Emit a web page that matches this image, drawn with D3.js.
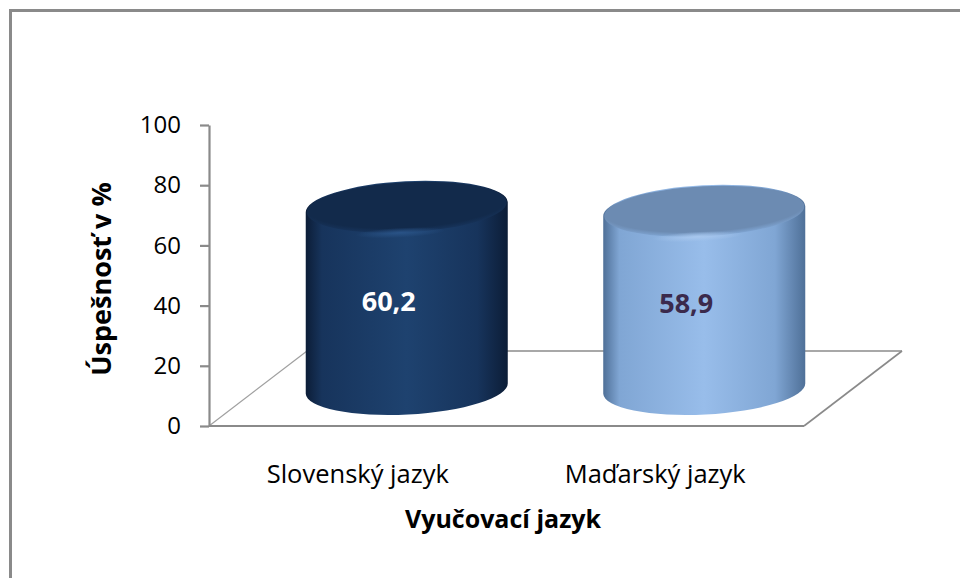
<!DOCTYPE html>
<html>
<head>
<meta charset="utf-8">
<script src="https://cdn.jsdelivr.net/npm/d3@7/dist/d3.min.js"></script>
<style>
  html, body { margin: 0; padding: 0; background: #fff; }
  svg { display: block; }
  text { font-family: "Open Sans", Lato, sans-serif; fill: #000; }
</style>
</head>
<body>
<script>
(function(d3) {
    'use strict';

    var categories = ['Slovenský jazyk', 'Maďarský jazyk'];
    var values = [60.2, 58.9];
    var yTicks = [0, 20, 40, 60, 80, 100];
    var labels = ['60,2', '58,9'];

    var settings = {
        width: 960,
        height: 578,
        left: 209,
        right: 804,
        top: 125,
        bottom: 426,
        depthX: 98,      // 3d floor depth offset
        depthY: -75,
        ry: 26,
        tilt: -3
    };

    // colours for each cylinder: edge, mid, light, top, label
    var looks = [
        { edge: '#0c1d37', mid: '#17345c', light: '#1e426f', top: '#122a4b', rim: '#2a5488', label: '#ffffff' },
        { edge: '#4f7098', mid: '#80a6d4', light: '#98bdea', top: '#6c8bb2', rim: '#a9c8ee', label: '#3b2a4c' }
    ];

    var svg = d3.select('body')
        .append('svg')
        .attr('width', settings.width)
        .attr('height', settings.height);

    var defs = svg.append('defs');

    var x = d3.scaleBand()
        .domain(categories)
        .range([settings.left, settings.right])
        .paddingInner(0.32)
        .paddingOuter(0.16);

    var y = d3.scaleLinear()
        .domain([0, 100])
        .range([settings.bottom, settings.top]);

    // chart border (only top and left show)
    svg.append('path')
        .attr('d', 'M10.5,578 L10.5,10.5 L960,10.5')
        .attr('fill', 'none')
        .attr('stroke', '#8a8a8a')
        .attr('stroke-width', 3);

    // floor
    var x0 = settings.left, x1 = settings.right, y0 = y(0);
    var dx = settings.depthX, dy = settings.depthY;
    var floor = svg.append('g').attr('class', 'floor');
    floor.append('line')
        .attr('x1', x0).attr('y1', y0).attr('x2', x0 + dx).attr('y2', y0 + dy)
        .attr('stroke', '#a0a0a0').attr('stroke-width', 1.2);
    floor.append('line')
        .attr('x1', x0 + dx).attr('y1', y0 + dy).attr('x2', x1 + dx).attr('y2', y0 + dy)
        .attr('stroke', '#a8a8a8').attr('stroke-width', 2);
    floor.append('line')
        .attr('x1', x1).attr('y1', y0).attr('x2', x1 + dx).attr('y2', y0 + dy)
        .attr('stroke', '#8a8a8a').attr('stroke-width', 1.6);
    floor.append('line')
        .attr('x1', x0).attr('y1', y0).attr('x2', x1).attr('y2', y0)
        .attr('stroke', '#8a8a8a').attr('stroke-width', 2.2);

    // gradients
    looks.forEach(function(c, i) {
        var g = defs.append('linearGradient')
            .attr('id', 'body' + i)
            .attr('x1', 0).attr('x2', 1).attr('y1', 0).attr('y2', 0);
        [[0, c.edge], [0.08, c.mid], [0.5, c.light], [0.85, c.mid], [1, c.edge]].forEach(function(s) {
            g.append('stop').attr('offset', s[0]).attr('stop-color', s[1]);
        });
        var t = defs.append('radialGradient')
            .attr('id', 'top' + i)
            .attr('cx', 0.5).attr('cy', 0.4).attr('r', 0.6);
        t.append('stop').attr('offset', 0).attr('stop-color', c.top);
        t.append('stop').attr('offset', 0.85).attr('stop-color', c.top);
        t.append('stop').attr('offset', 1).attr('stop-color', c.mid);
        var h = defs.append('radialGradient').attr('id', 'hi' + i);
        h.append('stop').attr('offset', 0).attr('stop-color', c.rim).attr('stop-opacity', 0.95);
        h.append('stop').attr('offset', 1).attr('stop-color', c.rim).attr('stop-opacity', 0);
    });

    // cylinders
    var rad = settings.tilt * Math.PI / 180;
    var bar = svg.selectAll('g.bar')
        .data(values)
        .enter()
        .append('g')
        .attr('class', 'bar');

    function geom(d, i) {
        var rx = x.bandwidth() / 2;
        return {
            cx: x(categories[i]) + rx + dx / 2,
            topY: y(d) + dy / 2,
            botY: y(0) + dy / 2,
            rx: rx,
            ox: rx * Math.cos(rad),
            oy: rx * Math.sin(rad)
        };
    }

    bar.append('path')
        .attr('d', function(d, i) {
            var g = geom(d, i), ry = settings.ry, t = settings.tilt;
            return 'M' + (g.cx - g.ox) + ',' + (g.topY - g.oy) +
                'L' + (g.cx - g.ox) + ',' + (g.botY - g.oy) +
                'A' + g.rx + ',' + ry + ' ' + t + ' 0 0 ' + (g.cx + g.ox) + ',' + (g.botY + g.oy) +
                'L' + (g.cx + g.ox) + ',' + (g.topY + g.oy) +
                'A' + g.rx + ',' + ry + ' ' + t + ' 0 0 ' + (g.cx - g.ox) + ',' + (g.topY - g.oy) + 'Z';
        })
        .attr('fill', function(d, i) { return 'url(#body' + i + ')'; });

    bar.append('ellipse')
        .attr('cx', 0).attr('cy', 0)
        .attr('rx', function(d, i) { return geom(d, i).rx - 1; })
        .attr('ry', settings.ry - 1)
        .attr('transform', function(d, i) {
            var g = geom(d, i);
            return 'translate(' + g.cx + ',' + g.topY + ') rotate(' + settings.tilt + ')';
        })
        .attr('fill', function(d, i) { return 'url(#top' + i + ')'; });

    bar.append('ellipse')
        .attr('cx', -8).attr('cy', settings.ry - 1)
        .attr('rx', 45).attr('ry', 5)
        .attr('transform', function(d, i) {
            var g = geom(d, i);
            return 'translate(' + g.cx + ',' + g.topY + ') rotate(' + settings.tilt + ')';
        })
        .attr('fill', function(d, i) { return 'url(#hi' + i + ')'; });

    bar.append('text')
        .attr('x', function(d, i) { return geom(d, i).cx - 18; })
        .attr('y', function(d) { return y(d / 2) - 35; })
        .attr('text-anchor', 'middle')
        .attr('dominant-baseline', 'central')
        .style('font-size', '27px')
        .style('font-weight', 'bold')
        .style('fill', function(d, i) { return looks[i].label; })
        .text(function(d, i) { return labels[i]; });

    // y axis
    var yAxis = svg.append('g')
        .attr('transform', 'translate(' + settings.left + ',0)')
        .call(d3.axisLeft(y).tickValues(yTicks).tickSize(9).tickSizeOuter(0).tickPadding(19));
    yAxis.select('.domain').attr('stroke', '#8a8a8a').attr('stroke-width', 2.2);
    yAxis.selectAll('.tick line').attr('stroke', '#8a8a8a').attr('stroke-width', 2.2);
    yAxis.selectAll('.tick text')
        .style('font-family', '"Open Sans", sans-serif')
        .style('font-size', '24px')
        .attr('fill', '#000');

    // category labels
    svg.selectAll('text.cat')
        .data(categories)
        .enter()
        .append('text')
        .attr('class', 'cat')
        .attr('x', function(d) { return x(d) + x.bandwidth() / 2; })
        .attr('y', 483)
        .attr('text-anchor', 'middle')
        .style('font-size', '25.5px')
        .text(function(d) { return d; });

    // axis titles
    svg.append('text')
        .attr('x', 503)
        .attr('y', 528)
        .attr('text-anchor', 'middle')
        .style('font-size', '25px')
        .style('font-weight', 'bold')
        .text('Vyučovací jazyk');

    svg.append('text')
        .attr('transform', 'translate(111,279) rotate(-90)')
        .attr('text-anchor', 'middle')
        .style('font-size', '27px')
        .style('font-weight', 'bold')
        .text('Úspešnosť v %');

})(window.d3);
</script>
</body>
</html>
